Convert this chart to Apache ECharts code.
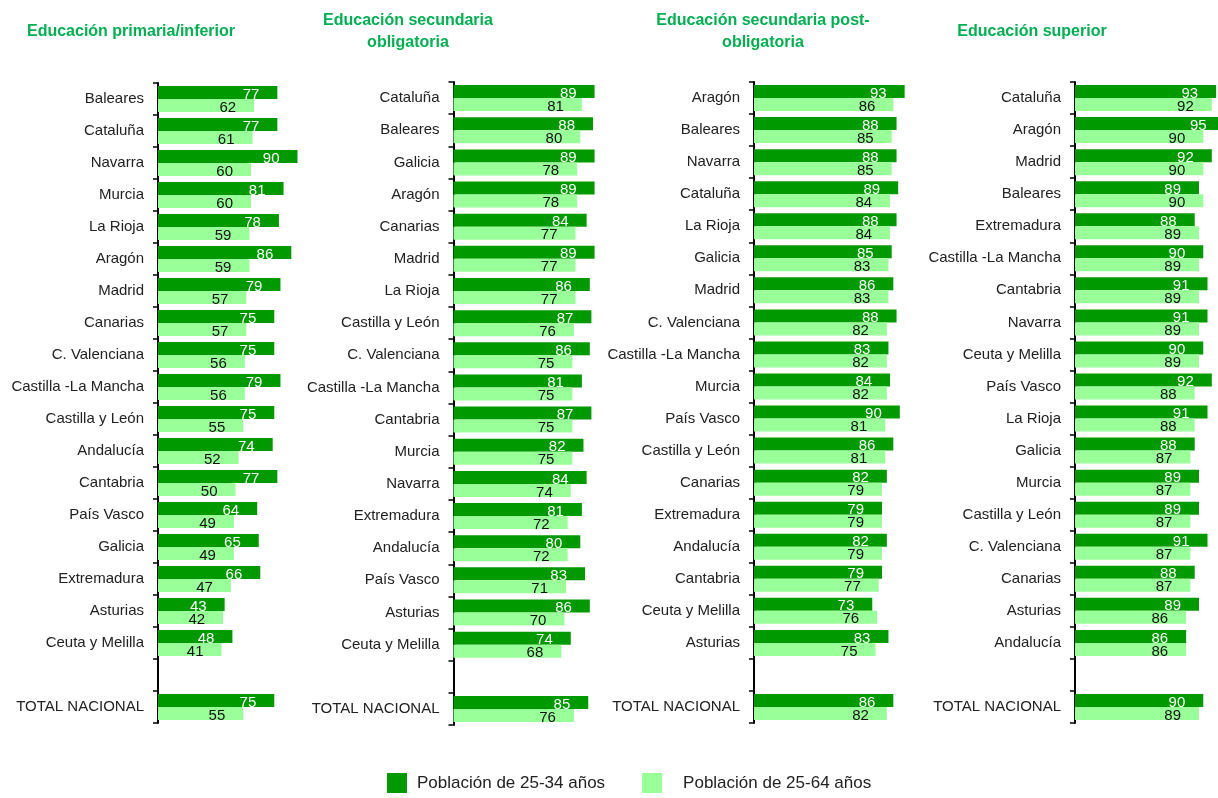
<!DOCTYPE html>
<html>
<head>
<meta charset="utf-8">
<title>Población por nivel de formación</title>
<script src="https://cdn.jsdelivr.net/npm/echarts@6/dist/echarts.min.js"></script>
<style>
  html, body { margin: 0; padding: 0; background: #fff; }
  #chart { width: 1218px; height: 798px; }
</style>
</head>
<body>
<div id="chart"></div>
<script>
const serieJoven = 'Población de 25-34 años'
const serieTotal = 'Población de 25-64 años'

const titulos = ['Educación primaria/inferior', 'Educación secundaria\nobligatoria', 'Educación secundaria post-\nobligatoria', 'Educación superior']

const catPrimaria = ['Baleares', 'Cataluña', 'Navarra', 'Murcia', 'La Rioja', 'Aragón', 'Madrid', 'Canarias', 'C. Valenciana', 'Castilla -La Mancha', 'Castilla y León', 'Andalucía', 'Cantabria', 'País Vasco', 'Galicia', 'Extremadura', 'Asturias', 'Ceuta y Melilla', '', 'TOTAL NACIONAL']
const jovenPrimaria = [77, 77, 90, 81, 78, 86, 79, 75, 75, 79, 75, 74, 77, 64, 65, 66, 43, 48, null, 75]
const totalPrimaria = [62, 61, 60, 60, 59, 59, 57, 57, 56, 56, 55, 52, 50, 49, 49, 47, 42, 41, null, 55]

const catSecObl = ['Cataluña', 'Baleares', 'Galicia', 'Aragón', 'Canarias', 'Madrid', 'La Rioja', 'Castilla y León', 'C. Valenciana', 'Castilla -La Mancha', 'Cantabria', 'Murcia', 'Navarra', 'Extremadura', 'Andalucía', 'País Vasco', 'Asturias', 'Ceuta y Melilla', '', 'TOTAL NACIONAL']
const jovenSecObl = [89, 88, 89, 89, 84, 89, 86, 87, 86, 81, 87, 82, 84, 81, 80, 83, 86, 74, null, 85]
const totalSecObl = [81, 80, 78, 78, 77, 77, 77, 76, 75, 75, 75, 75, 74, 72, 72, 71, 70, 68, null, 76]

const catSecPost = ['Aragón', 'Baleares', 'Navarra', 'Cataluña', 'La Rioja', 'Galicia', 'Madrid', 'C. Valenciana', 'Castilla -La Mancha', 'Murcia', 'País Vasco', 'Castilla y León', 'Canarias', 'Extremadura', 'Andalucía', 'Cantabria', 'Ceuta y Melilla', 'Asturias', '', 'TOTAL NACIONAL']
const jovenSecPost = [93, 88, 88, 89, 88, 85, 86, 88, 83, 84, 90, 86, 82, 79, 82, 79, 73, 83, null, 86]
const totalSecPost = [86, 85, 85, 84, 84, 83, 83, 82, 82, 82, 81, 81, 79, 79, 79, 77, 76, 75, null, 82]

const catSuperior = ['Cataluña', 'Aragón', 'Madrid', 'Baleares', 'Extremadura', 'Castilla -La Mancha', 'Cantabria', 'Navarra', 'Ceuta y Melilla', 'País Vasco', 'La Rioja', 'Galicia', 'Murcia', 'Castilla y León', 'C. Valenciana', 'Canarias', 'Asturias', 'Andalucía', '', 'TOTAL NACIONAL']
const jovenSuperior = [93, 95, 92, 89, 88, 90, 91, 91, 90, 92, 91, 88, 89, 89, 91, 88, 89, 86, null, 90]
const totalSuperior = [92, 90, 90, 90, 89, 89, 89, 89, 89, 88, 88, 87, 87, 87, 87, 87, 86, 86, null, 89]

const paneles = [
    { cats: catPrimaria, joven: jovenPrimaria, total: totalPrimaria },
    { cats: catSecObl, joven: jovenSecObl, total: totalSecObl },
    { cats: catSecPost, joven: jovenSecPost, total: totalSecPost },
    { cats: catSuperior, joven: jovenSuperior, total: totalSuperior }
]

// layout of each panel
// (the last panel's axis starts at 60 and runs past the right edge)
const grids = [
    { left: 158, top: 83, width: 155, height: 640, outerBoundsMode: 'none' },
    { left: 453.5, top: 82, width: 158.5, height: 643, outerBoundsMode: 'none' },
    { left: 754, top: 82, width: 162, height: 641, outerBoundsMode: 'none' },
    { left: 1075, top: 82, width: 171, height: 641, outerBoundsMode: 'none' }
]
const xRanges = [[0, 100], [0, 100], [0, 100], [60, 100]]
const titleCenters = [131, 408, 763, 1032]
const titleTops = [21, 10, 10, 21]

const fuente = "'Liberation Sans', Arial, sans-serif"
const verdeOscuro = '#009900'
const verdeClaro = '#99ff99'

let option = {
    animation: false,
    backgroundColor: '#fff',
    textStyle: { fontFamily: fuente },
    title: titulos.map((t, i) => ({
        text: t,
        left: titleCenters[i],
        top: titleTops[i],
        textAlign: 'center',
        padding: 0,
        textStyle: {
            color: '#00b050',
            fontSize: 16,
            fontWeight: 'bold',
            lineHeight: 22,
            fontFamily: fuente
        }
    })),
    legend: {
        left: 387,
        top: 773,
        padding: 0,
        icon: 'rect',
        itemWidth: 20,
        itemHeight: 20,
        itemGap: 37,
        data: [
            { name: serieJoven, textStyle: { padding: [0, 0, 0, 5] } },
            { name: serieTotal, textStyle: { padding: [0, 0, 0, 16] } }
        ],
        textStyle: {
            color: '#222',
            fontSize: 17,
            fontFamily: fuente
        }
    },
    grid: grids,
    xAxis: xRanges.map((r, i) => ({
        type: 'value',
        gridIndex: i,
        min: r[0],
        max: r[1],
        show: false
    })),
    yAxis: paneles.map((p, i) => ({
        type: 'category',
        gridIndex: i,
        inverse: true,
        data: p.cats,
        axisLine: { show: true, lineStyle: { color: '#000', width: 2 } },
        axisTick: { show: true, length: 5, lineStyle: { color: '#000', width: 1.5 } },
        axisLabel: { color: '#222', fontSize: 15, margin: 14, interval: 0, padding: [6, 0, 0, 0], fontFamily: fuente },
        splitLine: { show: false }
    })),
    series: []
}

paneles.forEach((p, i) => {
    option.series.push({
        name: serieJoven,
        type: 'bar',
        xAxisIndex: i,
        yAxisIndex: i,
        data: p.joven,
        barWidth: 13,
        barGap: '0%',
        itemStyle: { color: verdeOscuro },
        label: {
            show: true,
            position: 'insideRight',
            distance: 18,
            offset: [0, 2],
            color: '#fff',
            fontSize: 15,
            fontFamily: fuente
        }
    })
    option.series.push({
        name: serieTotal,
        type: 'bar',
        xAxisIndex: i,
        yAxisIndex: i,
        data: p.total,
        barWidth: 13,
        barGap: '0%',
        itemStyle: { color: verdeClaro },
        label: {
            show: true,
            position: 'insideRight',
            distance: 18,
            offset: [0, 2],
            color: '#111',
            fontSize: 15,
            fontFamily: fuente
        }
    })
})

const chart = echarts.init(document.getElementById('chart'), null, { renderer: 'canvas' })
chart.setOption(option)
</script>
</body>
</html>
